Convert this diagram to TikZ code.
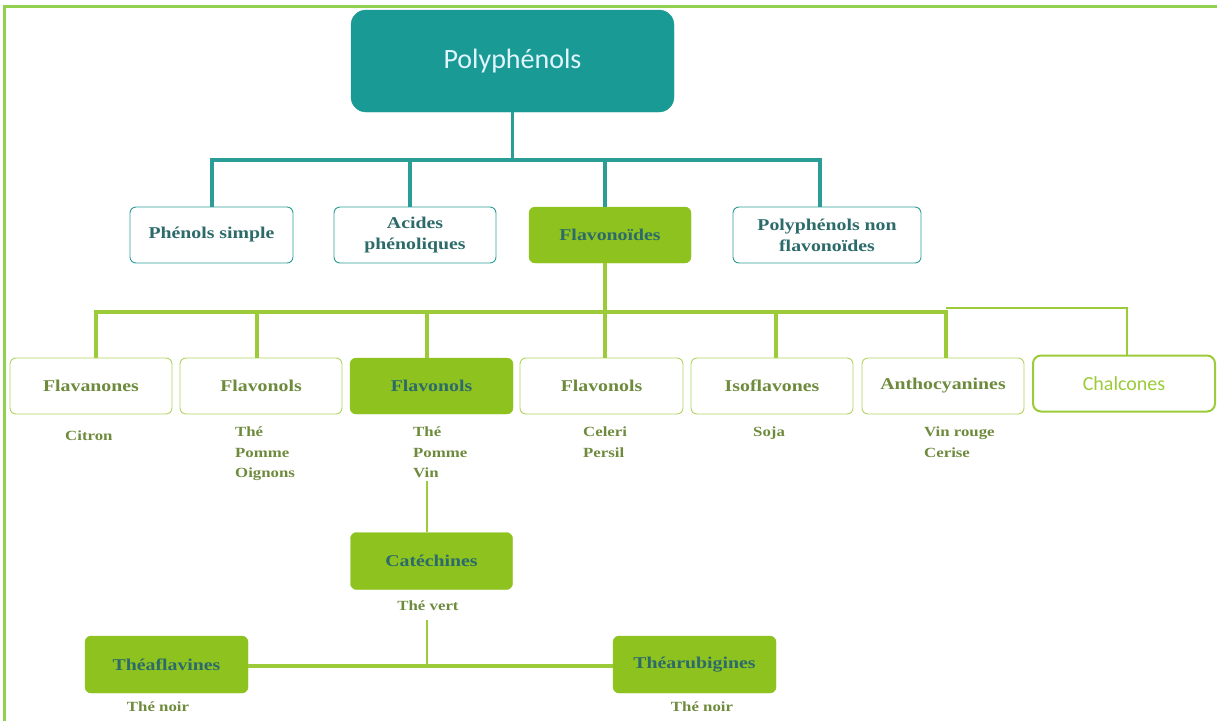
\documentclass[tikz,border=0pt]{standalone}
\usepackage{fontspec}
\setmainfont{Liberation Serif}
\newfontfamily\boxfont[FakeStretch=1.2]{Liberation Serif}
\newfontfamily\calib{Carlito}
\definecolor{tealfill}{HTML}{1A9A94}
\definecolor{tealline}{HTML}{2A9D97}
\definecolor{tealtext}{HTML}{2D6B6B}
\definecolor{grfill}{HTML}{8DC21F}
\definecolor{grline}{HTML}{9CCB3A}
\definecolor{olive}{HTML}{6E8B3D}
\definecolor{frame}{HTML}{92D050}
\begin{document}
\begin{tikzpicture}[x=1pt,y=-1pt,
  tbox/.style={draw=tealline,line width=0.9pt,fill=white,rounded corners=6pt,inner sep=0pt,align=center,text=tealtext,font=\boxfont\bfseries\fontsize{16.5}{21}\selectfont},
  gbox/.style={draw=grline!80!white,line width=0.9pt,fill=white,rounded corners=6pt,inner sep=0pt,align=center,text=olive,font=\boxfont\bfseries\fontsize{16.5}{21}\selectfont},
  gfbox/.style={draw=grfill,fill=grfill,rounded corners=6pt,inner sep=0pt,align=center,text=tealtext,font=\boxfont\bfseries\fontsize{16.5}{21}\selectfont},
  sub/.style={text=olive,font=\boxfont\bfseries\fontsize{14}{20.5}\selectfont,align=left,inner sep=0pt,anchor=north west},
  tline/.style={draw=tealline,line width=3.2pt},
  gline/.style={draw=grline,line width=3.2pt},
  gthin/.style={draw=grline,line width=2pt}]
\useasboundingbox (0,0) rectangle (1217,720);
\draw[frame,line width=3pt] (4,726) -- (4,6) -- (1225,6);
% top
\node[draw=tealfill,fill=tealfill,rounded corners=15pt,minimum width=323pt,minimum height=102pt,inner sep=0pt,text=white!88!cyan,font=\calib\fontsize{28}{32}\selectfont] (poly) at (512.5,61) {Polyphénols};
% level 2
\node[tbox,minimum width=163pt,minimum height=56pt] (ps) at (211.5,235) {Phénols simple};
\node[tbox,minimum width=162pt,minimum height=56pt] (ac) at (415,235) {Acides\\phénoliques};
\node[gfbox,minimum width=162pt,minimum height=56pt] (fl) at (610,235) {Flavonoïdes};
\node[tbox,minimum width=188pt,minimum height=56pt] (pn) at (827,235) {Polyphénols non\\flavonoïdes};
\coordinate (tj) at (512.5,160);
\draw[tline] (poly.south) -- (tj);
\draw[tline] (212,207) -- (212,160) -- (820,160) -- (820,207);
\draw[tline] (410,160) -- (410,207);
\draw[tline] (605,160) -- (605,207);
% level 3
\node[gbox,minimum width=162pt,minimum height=56pt] (fa) at (91,386) {Flavanones};
\node[gbox,minimum width=162pt,minimum height=56pt] (f1) at (261,386) {Flavonols};
\node[gfbox,minimum width=163pt,minimum height=56pt] (f2) at (431.5,386) {Flavonols};
\node[gbox,minimum width=163pt,minimum height=56pt] (f3) at (601.5,386) {Flavonols};
\node[gbox,minimum width=162pt,minimum height=56pt] (iso) at (772,386) {Isoflavones};
\node[gbox,minimum width=162pt,minimum height=56pt] (ant) at (943,386) {Anthocyanines};
\node[draw=grline,line width=2pt,fill=white,rounded corners=8pt,inner sep=0pt,minimum width=182pt,minimum height=56pt,text=grline,font=\calib\fontsize{20}{24}\selectfont] (cha) at (1124,383.5) {Chalcones};
\draw[gline] (605,263) -- (605,312);
\draw[gline] (96,358) -- (96,312) -- (946,312) -- (946,358);
\draw[gline] (257,312) -- (257,358);
\draw[gline] (427,312) -- (427,358);
\draw[gline] (605,312) -- (605,358);
\draw[gline] (776,312) -- (776,358);
\draw[gthin] (946,308) -- (1127,308) -- (cha.north -| 1127,0);
% sublabels
\node[sub] (s1) at (65,431) {Citron};
\node[sub] (s2) at (235,427) {Thé\\Pomme\\Oignons};
\node[sub] (s3) at (413,427) {Thé\\Pomme\\Vin};
\node[sub] (s4) at (583,427) {Celeri\\Persil};
\node[sub] (s5) at (753,427) {Soja};
\node[sub] (s6) at (924,427) {Vin rouge\\Cerise};
% catechines
\node[gfbox,minimum width=162pt,minimum height=57pt] (cat) at (431.5,561) {Catéchines};
\draw[grline,line width=2pt] (427,481) -- (427,532);
\node[sub,anchor=north] (tv) at (428,601) {Thé vert};
\node[gfbox,minimum width=163pt,minimum height=57pt] (tf) at (166.5,664.5) {Théaflavines};
\node[gfbox,minimum width=163pt,minimum height=57pt] (tr) at (694.5,664.5) {Théarubigines};
\coordinate (cj) at (427,666);
\draw[grline,line width=2pt] (427,620) -- (cj);
\draw[grline,line width=3.2pt] (tf.east |- cj) -- (tr.west |- cj);
\node[sub,anchor=north] (tn1) at (158,702) {Thé noir};
\node[sub,anchor=north] (tn2) at (702,702) {Thé noir};
\end{tikzpicture}
\end{document}
